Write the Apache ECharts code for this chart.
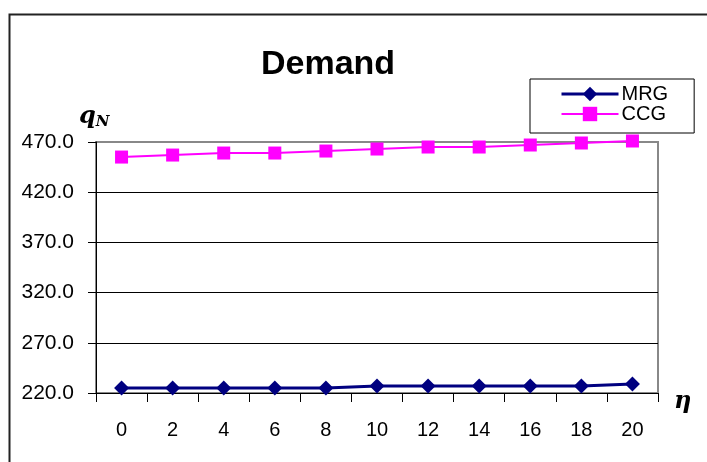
<!DOCTYPE html>
<html>
<head>
<meta charset="utf-8">
<script src="https://cdn.jsdelivr.net/npm/echarts@6/dist/echarts.min.js"></script>
<style>html,body{margin:0;padding:0;background:#fff;}#c{width:707px;height:462px;}</style>
</head>
<body>
<div id="c"></div>
<script>
var categories = ['0','2','4','6','8','10','12','14','16','18','20'];
var mrgValues = [225, 225, 225, 225, 225, 227, 227, 227, 227, 227, 229];
var ccgValues = [455, 457, 459, 459, 461, 463, 465, 465, 467, 469, 471];
var yTicks = [220, 270, 320, 370, 420, 470];

var chart = echarts.init(document.getElementById('c'), null, {renderer: 'canvas'});
var FONT = 'Liberation Sans, Arial, sans-serif';
chart.setOption({
  animation: false,
  backgroundColor: '#ffffff',
  title: {
    text: 'Demand',
    left: 256,
    top: 43,
    textStyle: {fontFamily: FONT, fontSize: 34, fontWeight: 'bold', color: '#000'}
  },
  legend: {
    orient: 'vertical',
    left: 530,
    top: 79,
    padding: [5, 26, 9, 30],
    itemGap: 0,
    itemWidth: 57,
    itemHeight: 18,
    borderColor: '#000',
    borderWidth: 1,
    backgroundColor: '#fff',
    textStyle: {fontFamily: FONT, fontSize: 20, color: '#000', lineHeight: 20, padding: [0,0,0,-2]},
    data: [
      {name: 'MRG', lineStyle: {width: 3}},
      {name: 'CCG', lineStyle: {width: 2}}
    ]
  },
  grid: {
    left: 96, top: 142, right: 49, bottom: 69,
    show: true, borderColor: '#888', borderWidth: 2, backgroundColor: 'transparent'
  },
  xAxis: {
    type: 'category',
    data: categories,
    boundaryGap: true,
    name: 'η',
    nameLocation: 'end',
    nameGap: 16,
    nameTextStyle: {fontFamily: 'DejaVu Serif, serif', fontStyle: 'italic', fontWeight: 'bold', fontSize: 24, color: '#000', verticalAlign: 'top', padding: [-3,0,0,0]},
    axisLine: {lineStyle: {color: '#000', width: 1}},
    axisTick: {show: true, length: 9, lineStyle: {color: '#000'}},
    axisLabel: {fontFamily: FONT, fontSize: 20, color: '#000', margin: 27},
    splitLine: {show: false}
  },
  yAxis: {
    type: 'value',
    min: yTicks[0],
    max: yTicks[yTicks.length - 1],
    interval: 50,
    axisLine: {show: true, lineStyle: {color: '#000', width: 1}},
    axisTick: {show: true, length: 8, lineStyle: {color: '#000'}},
    axisLabel: {fontFamily: FONT, fontSize: 21, color: '#000', margin: 22,
      formatter: function (v) { return v.toFixed(1); }},
    splitLine: {show: true, lineStyle: {color: ['#000','#000','#000','#000','#000','#888'], width: 1}}
  },
  graphic: [
    {type: 'rect', left: 7, top: 12, shape: {width: 720, height: 470}, style: {fill: 'none', stroke: '#222', lineWidth: 2}, silent: true},
    {type: 'text', left: 79, top: 105, style: {
      text: '{q|q}{n|N}',
      rich: {
        q: {fontFamily: 'DejaVu Serif, serif', fontStyle: 'italic', fontWeight: 'bold', fontSize: 24, fill: '#000'},
        n: {fontFamily: 'DejaVu Serif, serif', fontStyle: 'italic', fontWeight: 'bold', fontSize: 15, fill: '#000', padding: [10,0,0,0]}
      }
    }}
  ],
  series: [
    {
      name: 'MRG', type: 'line', data: mrgValues, clip: false,
      symbol: 'diamond', symbolSize: 15,
      itemStyle: {color: '#000080'},
      lineStyle: {color: '#000080', width: 3}
    },
    {
      name: 'CCG', type: 'line', data: ccgValues, clip: false,
      symbol: 'rect', symbolSize: 13,
      itemStyle: {color: '#ff00ff'},
      lineStyle: {color: '#ff00ff', width: 2}
    }
  ]
});
</script>
</body>
</html>
